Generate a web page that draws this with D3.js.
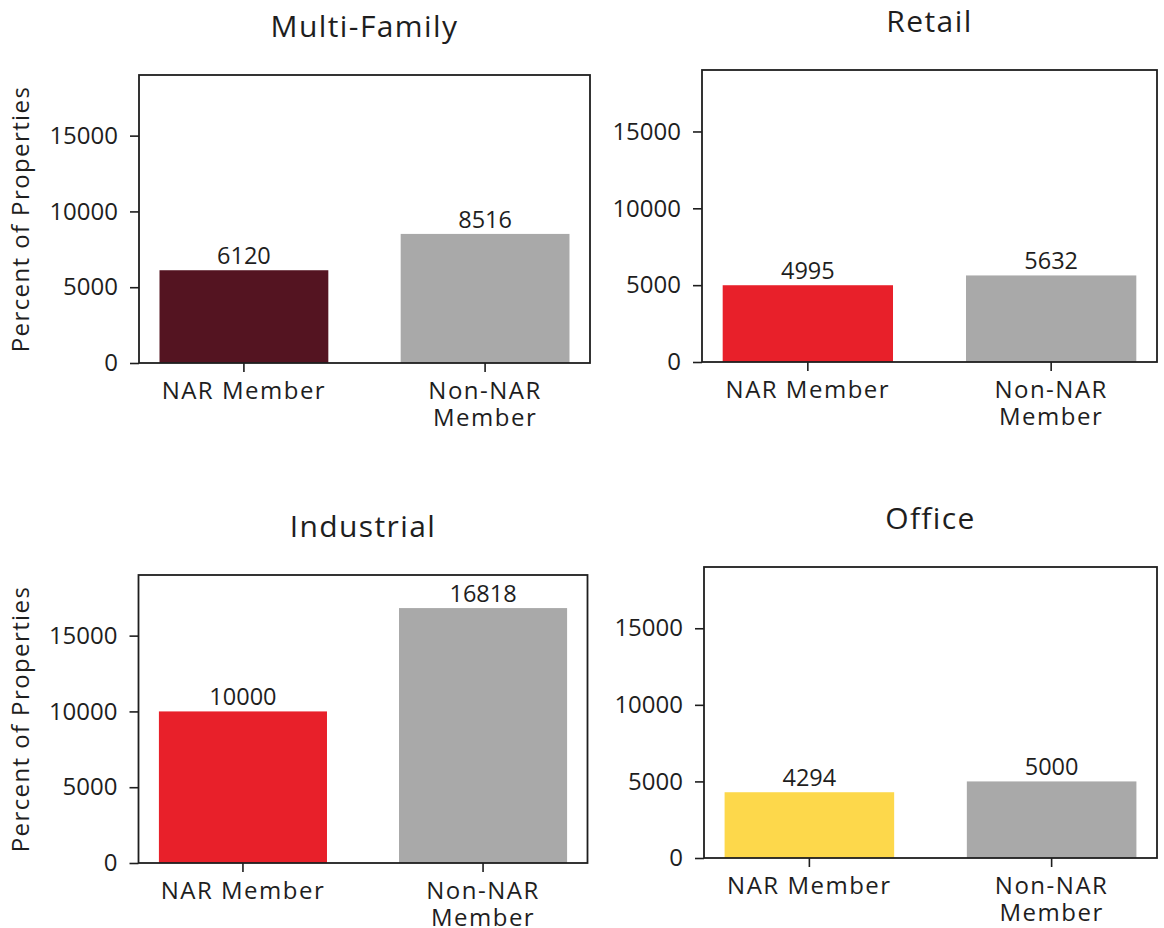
<!DOCTYPE html>
<html>
<head>
<meta charset="utf-8">
<script src="https://cdn.jsdelivr.net/npm/d3@7"></script>
<style>
  html, body { margin: 0; padding: 0; background: #ffffff; }
  svg { display: block; }
  text { font-family: "Open Sans", "Noto Sans", sans-serif; fill: #1e1e1e; }
</style>
</head>
<body>
<svg id="chart" width="1164" height="928"></svg>
<script>
// Property counts by membership, one panel per property type
const panelTitles = ["Multi-Family", "Retail", "Industrial", "Office"];
const categories = ["NAR Member", "Non-NAR Member"];
const categoryLines = [["NAR Member"], ["Non-NAR", "Member"]];
const narValues = [6120, 4995, 10000, 4294];
const nonNarValues = [8516, 5632, 16818, 5000];
const yTicks = [0, 5000, 10000, 15000];
const yMax = 19000;
const yLabel = "Percent of Properties";

// Styling
const narColors = ["#541421", "#e8202a", "#e8202a", "#fdd84b"];
const nonNarColor = "#a9a9a9";

// Plot frames of the 2x2 grid: [left, top, right, bottom]
const frames = [
  [139, 75, 590, 363],
  [702, 70, 1157, 362],
  [138.5, 575, 587.5, 863],
  [704, 567, 1157, 858]
];

const svg = d3.select("#chart");

panelTitles.forEach((title, i) => {
  const [x0, y0, x1, y1] = frames[i];
  const values = [narValues[i], nonNarValues[i]];
  const colors = [narColors[i], nonNarColor];

  const x = d3.scaleBand()
    .domain(categories)
    .range([x0, x1])
    .paddingInner(0.3)
    .paddingOuter(0.085);

  const y = d3.scaleLinear()
    .domain([0, yMax])
    .range([y1, y0]);

  const g = svg.append("g");

  // bars
  g.selectAll("rect.bar")
    .data(categories)
    .join("rect")
    .attr("class", "bar")
    .attr("x", d => x(d))
    .attr("width", x.bandwidth())
    .attr("y", (d, k) => y(values[k]))
    .attr("height", (d, k) => y(0) - y(values[k]))
    .attr("fill", (d, k) => colors[k]);

  // value labels above bars
  g.selectAll("text.value")
    .data(categories)
    .join("text")
    .attr("class", "value")
    .attr("x", d => x(d) + x.bandwidth() / 2)
    .attr("y", (d, k) => y(values[k]) - 6)
    .attr("text-anchor", "middle")
    .style("font-size", "23.5px")
    .text((d, k) => values[k]);

  // y axis
  const yAxis = d3.axisLeft(y)
    .tickValues(yTicks)
    .tickFormat(d3.format("d"))
    .tickSize(9)
    .tickPadding(12)
    .tickSizeOuter(0);
  const ya = g.append("g")
    .attr("transform", `translate(${x0},0)`)
    .call(yAxis);
  ya.select(".domain").remove();
  ya.selectAll(".tick line").attr("stroke", "#1e1e1e").attr("stroke-width", 1.6);
  ya.selectAll(".tick text")
    .style("font-size", "24px")
    .style("font-family", "'Open Sans', 'Noto Sans', sans-serif")
    .attr("fill", "#1e1e1e");

  // x axis ticks
  const xAxis = d3.axisBottom(x)
    .tickSize(9)
    .tickSizeOuter(0)
    .tickFormat("");
  const xa = g.append("g")
    .attr("transform", `translate(0,${y1})`)
    .call(xAxis);
  xa.select(".domain").remove();
  xa.selectAll(".tick line").attr("stroke", "#1e1e1e").attr("stroke-width", 1.6);

  // category labels, one text element per line
  categories.forEach((c, k) => {
    categoryLines[k].forEach((line, j) => {
      g.append("text")
        .attr("class", "cat")
        .attr("x", x(c) + x.bandwidth() / 2)
        .attr("y", y1 + 36 + j * 27)
        .attr("text-anchor", "middle")
        .style("font-size", "24px")
        .style("letter-spacing", "1.5px")
        .text(line);
    });
  });

  // frame
  g.append("rect")
    .attr("x", x0)
    .attr("y", y0)
    .attr("width", x1 - x0)
    .attr("height", y1 - y0)
    .attr("fill", "none")
    .attr("stroke", "#1e1e1e")
    .attr("stroke-width", 1.8);

  // title
  g.append("text")
    .attr("x", (x0 + x1) / 2)
    .attr("y", y0 - 38)
    .attr("text-anchor", "middle")
    .style("font-size", "30px")
    .style("letter-spacing", "1.4px")
    .text(title);

  // y-axis title on the left column
  if (i % 2 === 0) {
    g.append("text")
      .attr("transform", `translate(29,${(y0 + y1) / 2}) rotate(-90)`)
      .attr("text-anchor", "middle")
      .style("font-size", "24px")
      .style("letter-spacing", "1.4px")
      .text(yLabel);
  }
});
</script>
</body>
</html>
